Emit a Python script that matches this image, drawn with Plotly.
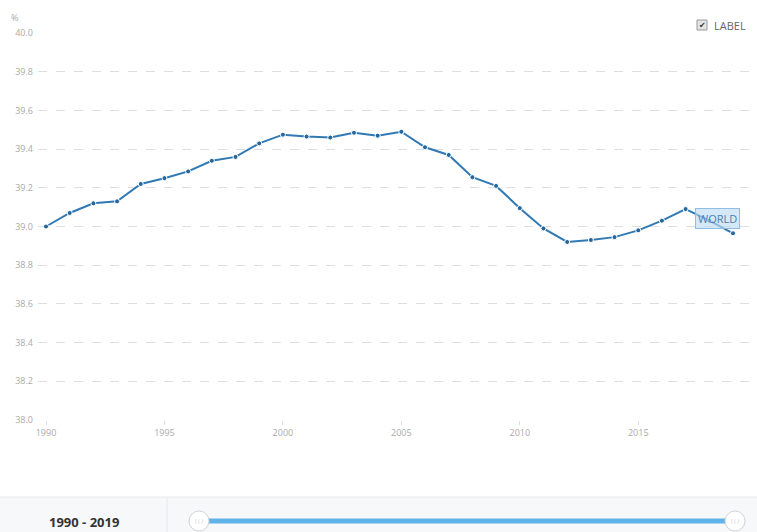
import plotly.graph_objects as go

years = list(range(1990, 2020))
values = [39.00, 39.07, 39.12, 39.13, 39.22, 39.25, 39.285, 39.34, 39.36, 39.43,
          39.475, 39.465, 39.46, 39.485, 39.47, 39.49, 39.41, 39.37, 39.255, 39.21,
          39.095, 38.99, 38.92, 38.93, 38.945, 38.98, 39.03, 39.09, 39.03, 38.965]
y_ticks = [38.0, 38.2, 38.4, 38.6, 38.8, 39.0, 39.2, 39.4, 39.6, 39.8, 40.0]
x_ticks = [1990, 1995, 2000, 2005, 2010, 2015]
series_name = "WORLD"
range_label = "1990 - 2019"

W, H = 757, 532
L, R, T, B = 38, 750, 33, 420  # plot area in px
PW, PH = R - L, B - T

def px(x):
    return (x - L) / PW

def py(y):
    return (B - y) / PH

def note(x, y, text, size, color, family="Open Sans", xanchor="center"):
    return dict(xref="paper", yref="paper", x=px(x), y=py(y), text=text, showarrow=False,
                xanchor=xanchor, yanchor="middle", font=dict(size=size, color=color, family=family))

line_color = "#3079b5"
fig = go.Figure()
fig.add_trace(go.Scatter(
    x=years, y=values, mode="lines+markers", name=series_name,
    line=dict(color=line_color, width=2),
    marker=dict(size=5, color="#24679f", line=dict(color="white", width=1)),
    hoverinfo="x+y",
))

shapes = []
annotations = []

# bottom panel
shapes.append(dict(type="rect", xref="paper", yref="paper", x0=px(0), x1=px(W), y0=py(532), y1=py(497),
                   fillcolor="#f6f8f9", line=dict(width=0), layer="below"))
shapes.append(dict(type="line", xref="paper", yref="paper", x0=px(0), x1=px(W), y0=py(497), y1=py(497),
                   line=dict(color="#e6eaec", width=1)))
shapes.append(dict(type="line", xref="paper", yref="paper", x0=px(167), x1=px(167), y0=py(532), y1=py(497),
                   line=dict(color="#e6eaec", width=1)))
# slider track
shapes.append(dict(type="line", xref="paper", yref="paper", x0=px(205), x1=px(730), y0=py(521), y1=py(521),
                   line=dict(color="#5fb3e8", width=5)))
for cx in (199, 735):
    shapes.append(dict(type="circle", xref="paper", yref="paper",
                       x0=px(cx - 10), x1=px(cx + 10), y0=py(531), y1=py(511),
                       fillcolor="white", line=dict(color="#cfd5d9", width=1)))
    annotations.append(note(cx, 521, "|||", 6, "#c8c8c8"))

annotations.append(note(84, 522, "<b>" + range_label + "</b>", 13, "#333"))

# checkbox + LABEL
shapes.append(dict(type="rect", xref="paper", yref="paper", x0=px(697), x1=px(707), y0=py(30), y1=py(20),
                   fillcolor="#e4e4e4", line=dict(color="#9a9a9a", width=1)))
annotations.append(note(702, 25, "✔", 8, "#333", family="DejaVu Sans"))
annotations.append(note(712, 25, "LABEL", 11, "#666", xanchor="left"))

# % unit
annotations.append(note(9, 18, "%", 9, "#aaa", xanchor="left"))

# series label
annotations.append(dict(x=2018.35, y=39.04, text=series_name, showarrow=False,
                        xanchor="center", yanchor="middle",
                        font=dict(size=11, color="#4a80b0", family="Open Sans"),
                        bgcolor="rgba(190,220,242,0.65)", bordercolor="#8fbde3", borderwidth=1, borderpad=2))

x0 = 1990 - (46 - L) / 23.69
x1 = 2019 + (R - 733) / 23.69

fig.update_layout(
    width=W, height=H,
    margin=dict(l=L, r=W - R, t=T, b=H - B, autoexpand=False),
    paper_bgcolor="white", plot_bgcolor="white",
    showlegend=False,
    font=dict(family="Open Sans", size=9, color="#aaa"),
    xaxis=dict(range=[x0, x1], tickvals=x_ticks, ticktext=[str(t) for t in x_ticks],
               showgrid=False, zeroline=False, showline=False, automargin=False,
               ticks="outside", ticklen=4, tickcolor="#ddd", tickfont=dict(size=9, color="#aaa")),
    yaxis=dict(range=[37.999, 40.001], tickvals=y_ticks, ticktext=[f"{v:.1f}" for v in y_ticks],
               showgrid=True, gridcolor="#dedede", griddash="dash", gridwidth=1, automargin=False,
               zeroline=False, showline=False, ticks="", ticklabelstandoff=4,
               tickfont=dict(size=9, color="#aaa")),
    shapes=shapes, annotations=annotations,
)

fig.write_html("out.html", config={"displayModeBar": False},
               post_script="document.body.style.margin='0';document.body.style.overflow='hidden';")
